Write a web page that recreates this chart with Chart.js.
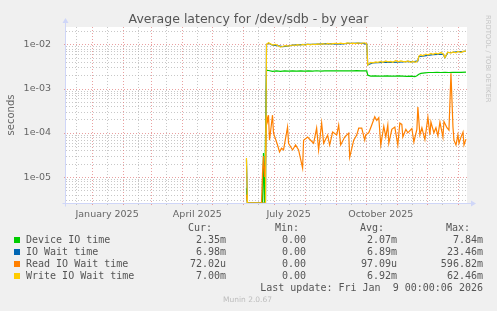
<!DOCTYPE html>
<html><head><meta charset="utf-8">
<script src="https://cdn.jsdelivr.net/npm/chart.js@4/dist/chart.umd.min.js"></script>
<style>
html,body{margin:0;padding:0;background:#f0f0f0;}
#wrap{position:relative;width:497px;height:311px;overflow:hidden;font-family:"DejaVu Sans",sans-serif;color:#666;}
canvas{position:absolute;left:0;top:0;}
.t{position:absolute;white-space:pre;}
.mono{font-family:"DejaVu Sans Mono",monospace;font-size:10px;line-height:12px;color:#555;}
.sq{position:absolute;width:6px;height:6px;}
</style></head><body>
<div id="wrap"><canvas id="c" width="497" height="311"></canvas></div>
<script>
// ---------- data (day 0 = 1 Jan 2025) ----------
const titleText = "Average latency for /dev/sdb - by year";
const yAxisTitle = "seconds";
const seriesNames = ["Device IO time", "IO Wait time", "Read IO Wait time", "Write IO Wait time"];

const xMinDay = -26;
const xMaxDay = 374;
const monthStartDays = [0, 31, 59, 90, 120, 151, 181, 212, 243, 273, 304, 334, 365];
const midMonthDays = [-16, 15, 46, 74, 105, 135, 166, 196, 227, 258, 288, 319, 349];
const xLabelDays = [15, 105, 196, 288];
const xLabels = ["January 2025", "April 2025", "July 2025", "October 2025"];

const yMin = 2.6e-6;
const yMax = 0.0245;
const yTickValues = [1e-5, 1e-4, 1e-3, 1e-2];
const yTickLabels = ["1e-05", "1e-04", "1e-03", "1e-02"];

const deviceDays = [154,155,170,171,172,174,176,180,184,188,192,196,200,204,208,212,216,220,224,228,232,236,240,244,248,252,256,260,264,268,272,274,275,278,282,286,290,294,298,302,306,310,314,318,322,324,326,328,332,336,340,344,348,352,356,360,364,368,373];
const deviceValues = [5.6e-6,0,0,3.5e-5,0,2.6e-3,2.55e-3,2.45e-3,2.5e-3,2.45e-3,2.5e-3,2.48e-3,2.5e-3,2.46e-3,2.5e-3,2.47e-3,2.5e-3,2.48e-3,2.52e-3,2.48e-3,2.5e-3,2.5e-3,2.52e-3,2.5e-3,2.5e-3,2.52e-3,2.5e-3,2.5e-3,2.53e-3,2.5e-3,2.52e-3,2.5e-3,2.0e-3,1.9e-3,1.92e-3,1.9e-3,1.9e-3,1.92e-3,1.9e-3,1.9e-3,1.92e-3,1.9e-3,1.88e-3,1.9e-3,1.85e-3,1.95e-3,2.1e-3,2.2e-3,2.25e-3,2.3e-3,2.3e-3,2.32e-3,2.3e-3,2.32e-3,2.3e-3,2.32e-3,2.33e-3,2.32e-3,2.35e-3];

const writeDays = [154,155,170,171,172,173,174,176,178,180,183,185,188,190,193,196,200,203,205,208,210,213,215,218,220,223,225,228,230,233,235,238,240,243,245,248,250,253,255,258,260,263,265,268,270,272,274,275,276,278,280,283,285,288,290,293,295,298,300,303,305,308,310,313,315,318,320,323,325,326,328,330,333,335,338,340,343,345,348,350,352,354,355,358,360,363,365,368,370,373];
const writeValues = [2.7e-5,0,0,0,0,0,1.0e-2,1.08e-2,1.02e-2,9.6e-3,9.9e-3,9.4e-3,8.6e-3,8.9e-3,9.3e-3,9.1e-3,9.6e-3,9.4e-3,9.8e-3,9.5e-3,9.9e-3,9.6e-3,1.0e-2,9.7e-3,1.01e-2,9.8e-3,1.02e-2,9.9e-3,1.03e-2,1.0e-2,1.04e-2,1.01e-2,1.03e-2,1.05e-2,1.02e-2,1.06e-2,1.03e-2,1.05e-2,1.07e-2,1.04e-2,1.06e-2,1.03e-2,1.07e-2,1.04e-2,1.06e-2,1.08e-2,1.02e-2,3.4e-3,3.6e-3,3.9e-3,3.8e-3,4.0e-3,3.9e-3,4.1e-3,3.9e-3,4.2e-3,4.0e-3,4.1e-3,3.9e-3,4.3e-3,4.0e-3,4.2e-3,4.1e-3,4.0e-3,4.2e-3,3.9e-3,4.1e-3,3.9e-3,4.3e-3,5.4e-3,5.8e-3,5.5e-3,6.0e-3,5.7e-3,6.2e-3,5.9e-3,6.3e-3,6.0e-3,6.5e-3,6.1e-3,5.0e-3,6.2e-3,6.6e-3,6.3e-3,6.7e-3,6.4e-3,6.9e-3,6.5e-3,6.9e-3,7.0e-3];

const ioWaitDays = [154,155,170,171,172,173,174,176,180,185,190,195,200,205,210,215,220,225,230,235,240,245,250,255,260,265,270,274,275,276,280,285,290,295,300,305,310,315,320,325,326,330,335,340,345,350,352,355,360,365,370,373];
const ioWaitValues = [2.5e-5,0,0,0,0,0,9.8e-3,1.06e-2,9.5e-3,9.3e-3,8.8e-3,9.1e-3,9.5e-3,9.7e-3,9.8e-3,9.9e-3,1.0e-2,1.01e-2,1.02e-2,1.03e-2,1.02e-2,1.01e-2,1.02e-2,1.05e-2,1.05e-2,1.06e-2,1.05e-2,1.01e-2,3.4e-3,3.5e-3,3.8e-3,3.85e-3,3.9e-3,3.95e-3,3.9e-3,3.95e-3,4.0e-3,4.1e-3,4.0e-3,4.2e-3,5.3e-3,5.4e-3,5.6e-3,5.8e-3,5.9e-3,6.0e-3,5.0e-3,6.5e-3,6.6e-3,6.8e-3,6.8e-3,6.98e-3];

const readDays = [154,155,169,170,171,172,173,174,175,176,177,180,181,185,187,189,191,195,196,200,203,206,210,211,215,218,221,224,226,229,231,235,237,240,244,246,248,252,256,257,261,264,266,269,272,273,276,279,282,284,286,288,291,293,295,296,299,302,305,307,309,310,313,315,319,321,324,325,327,329,332,335,337,338,341,343,345,347,350,351,354,356,358,360,361,363,365,366,368,370,371,373];
const readValues = [4e-6,0,0,1.2e-5,3e-5,1e-5,2e-5,2.5e-4,1.8e-4,2.5e-4,6.8e-5,2.5e-4,9.8e-5,5.3e-5,3.7e-5,4.5e-5,4.1e-5,1.35e-4,5.8e-5,4.1e-5,5.3e-5,4.1e-5,1.6e-5,6.8e-5,8.0e-5,6.8e-5,5.8e-5,1.28e-4,4.1e-5,1.66e-4,5.8e-5,8.9e-5,5.3e-5,1.04e-4,8.9e-5,1.5e-4,5.3e-5,8.0e-5,9.8e-5,2.8e-5,6.8e-5,8.9e-5,1.28e-4,1.28e-4,6.8e-5,9.0e-5,1.0e-4,1.5e-4,2.3e-4,1.9e-4,2.2e-4,5.3e-5,1.4e-4,8.0e-5,1.5e-4,5.8e-5,1.2e-4,1.35e-4,5.3e-5,1.66e-4,1.55e-4,8.0e-5,1.2e-4,1.0e-4,1.25e-4,6.2e-5,1.2e-4,3.8e-4,9.0e-5,1.3e-4,7.0e-5,2.26e-4,9.0e-5,1.75e-4,1.0e-4,1.3e-4,8.5e-5,1.75e-4,8.0e-5,1.8e-4,1.3e-4,1.15e-4,2.2e-3,1.35e-4,6.8e-5,5.3e-5,9.0e-5,5.8e-5,8.0e-5,1.04e-4,5.3e-5,7.2e-5];

const legendCur = ["2.35m", "6.98m", "72.02u", "7.00m"];
const legendMin = ["0.00", "0.00", "0.00", "0.00"];
const legendAvg = ["2.07m", "6.89m", "97.09u", "6.92m"];
const legendMax = ["7.84m", "23.46m", "596.82m", "62.46m"];
const legendHeaders = ["Cur:", "Min:", "Avg:", "Max:"];
const lastUpdateText = "Last update: Fri Jan  9 00:00:06 2026";
const footerText = "Munin 2.0.67";
const sideText = "RRDTOOL / TOBI OETIKER";

// ---------- styles ----------
const seriesColors = ["#00cc00", "#0066b3", "#ff8000", "#ffcc00"];
const FONT = "#666666";
const AXIS = "#cfd6f8";

// a zero cannot sit on a log axis: it is drawn on the axis floor, as rrdtool does
function pts(days, vals) { return days.map((d, i) => ({ x: d, y: vals[i] > 0 ? vals[i] : yMin })); }

const gridPlugin = {
  id: "rrdgrid",
  beforeDatasetsDraw(chart) {
    const { ctx, chartArea: a, scales: { x, y } } = chart;
    ctx.save();
    ctx.lineWidth = 1;
    ctx.fillStyle = "#ffffff";
    ctx.fillRect(a.left, a.top, a.right - a.left, a.bottom - a.top);
    ctx.setLineDash([1, 2]);
    // minor grid
    ctx.strokeStyle = "rgba(170,170,170,0.65)";
    for (let k = -6; k <= -1; k++) {
      for (let m = 2; m <= 9; m++) {
        const v = m * Math.pow(10, k);
        if (v <= yMin || v >= yMax) continue;
        const py = Math.round(y.getPixelForValue(v)) + 0.5;
        ctx.beginPath(); ctx.moveTo(a.left, py); ctx.lineTo(a.right, py); ctx.stroke();
      }
    }
    midMonthDays.forEach(d => {
      const px = Math.round(x.getPixelForValue(d)) + 0.5;
      if (px < a.left || px > a.right) return;
      ctx.beginPath(); ctx.moveTo(px, a.top); ctx.lineTo(px, a.bottom + 2); ctx.stroke();
    });
    // major grid
    ctx.strokeStyle = "rgba(225,120,120,0.7)";
    yTickValues.forEach(v => {
      const py = Math.round(y.getPixelForValue(v)) + 0.5;
      ctx.beginPath(); ctx.moveTo(a.left - 2, py); ctx.lineTo(a.right, py); ctx.stroke();
    });
    monthStartDays.forEach(d => {
      const px = Math.round(x.getPixelForValue(d)) + 0.5;
      if (px < a.left || px > a.right) return;
      ctx.beginPath(); ctx.moveTo(px, a.top); ctx.lineTo(px, a.bottom + 2); ctx.stroke();
    });
    ctx.restore();
  },
  afterDatasetsDraw(chart) {
    const { ctx, chartArea: a } = chart;
    ctx.save();
    ctx.strokeStyle = AXIS; ctx.fillStyle = AXIS; ctx.lineWidth = 1;
    const bx = Math.round(a.left) - 0.5, by = Math.round(a.bottom) + 0.5;
    ctx.beginPath(); ctx.moveTo(bx, by + 3); ctx.lineTo(bx, a.top - 4); ctx.stroke();
    ctx.beginPath(); ctx.moveTo(bx - 3, by); ctx.lineTo(a.right + 4, by); ctx.stroke();
    ctx.beginPath(); ctx.moveTo(bx - 3, a.top - 4); ctx.lineTo(bx + 3, a.top - 4); ctx.lineTo(bx, a.top - 9); ctx.closePath(); ctx.fill();
    ctx.beginPath(); ctx.moveTo(a.right + 4, by - 3); ctx.lineTo(a.right + 4, by + 3); ctx.lineTo(a.right + 9, by); ctx.closePath(); ctx.fill();
    ctx.restore();
  }
};

const datasets = [
  { label: seriesNames[3], data: pts(writeDays, writeValues), borderColor: seriesColors[3], order: 0 },
  { label: seriesNames[2], data: pts(readDays, readValues), borderColor: seriesColors[2], order: 1 },
  { label: seriesNames[1], data: pts(ioWaitDays, ioWaitValues), borderColor: seriesColors[1], order: 2 },
  { label: seriesNames[0], data: pts(deviceDays, deviceValues), borderColor: seriesColors[0], order: 3 }
].map(d => Object.assign(d, { borderWidth: 1.2, pointRadius: 0, tension: 0, fill: false, spanGaps: false }));

new Chart(document.getElementById("c"), {
  type: "line",
  data: { datasets },
  plugins: [gridPlugin],
  options: {
    responsive: false, animation: false, devicePixelRatio: 1,
    layout: { padding: { left: 0, top: 27, right: 30, bottom: 0 } },
    plugins: { legend: { display: false }, tooltip: { enabled: false }, title: { display: false } },
    scales: {
      x: {
        type: "linear", min: xMinDay, max: xMaxDay,
        afterBuildTicks: s => { s.ticks = xLabelDays.map(v => ({ value: v })); },
        afterFit: s => { s.height = 108; },
        ticks: { callback: (v, i) => xLabels[i], autoSkip: false, maxRotation: 0, color: FONT,
                 font: { family: "DejaVu Sans", size: 9.5 }, padding: -2 },
        grid: { display: false }, border: { display: false }
      },
      y: {
        type: "logarithmic", min: yMin, max: yMax,
        afterBuildTicks: s => { s.ticks = yTickValues.map(v => ({ value: v })); },
        afterFit: s => { s.width = 66; },
        ticks: { callback: (v, i) => yTickLabels[i], color: FONT,
                 font: { family: "DejaVu Sans", size: 9.5 }, padding: 7 },
        title: { display: true, text: yAxisTitle, color: FONT, font: { family: "DejaVu Sans", size: 10 }, padding: { top: 5, bottom: 0 } },
        grid: { display: false }, border: { display: false }
      }
    }
  }
});

// ---------- text overlay ----------
const wrap = document.getElementById("wrap");
function addText(txt, css, cls) {
  const e = document.createElement("div");
  e.className = "t" + (cls ? " " + cls : "");
  e.textContent = txt;
  Object.assign(e.style, css);
  wrap.appendChild(e);
  return e;
}
addText(titleText, { left: "0px", width: "497px", textAlign: "center", top: "11px", fontSize: "12.5px", lineHeight: "15px", color: "#555" });
addText(sideText, { left: "484px", top: "15px", writingMode: "vertical-rl", fontSize: "6.8px", lineHeight: "8px", color: "#c4c4c4" });
const headerRight = [212, 299, 384, 470];
legendHeaders.forEach((h, i) => addText(h, { right: (497 - headerRight[i]) + "px", top: "221.5px" }, "mono"));
const colRight = [226, 306, 397, 483];
seriesNames.forEach((n, r) => {
  const top = 233.5 + r * 12;
  const sq = document.createElement("div");
  sq.className = "sq"; sq.style.left = "14px"; sq.style.top = (top + 3) + "px"; sq.style.background = seriesColors[r];
  wrap.appendChild(sq);
  addText(n, { left: "26px", top: top + "px" }, "mono");
  [legendCur, legendMin, legendAvg, legendMax].forEach((col, c) =>
    addText(col[r], { right: (497 - colRight[c]) + "px", top: top + "px" }, "mono"));
});
addText(lastUpdateText, { right: (497 - 483) + "px", top: "281.5px" }, "mono");
addText(footerText, { left: "0px", width: "495px", textAlign: "center", top: "295px", fontSize: "7.5px", lineHeight: "10px", color: "#bdbdbd" });
</script>
</body></html>
